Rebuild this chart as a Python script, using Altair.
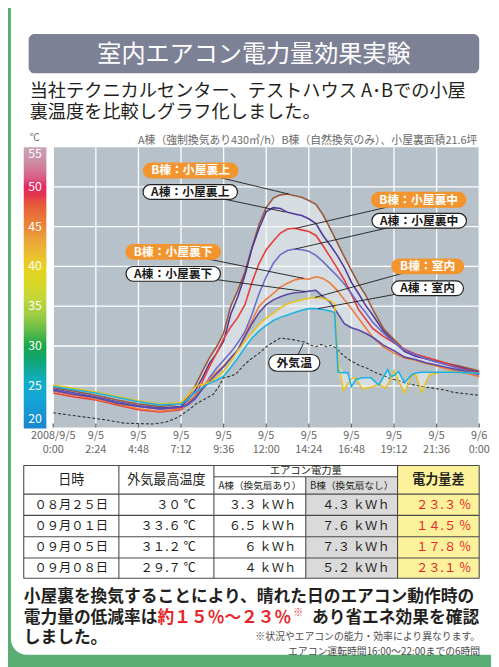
import altair as alt
import pandas as pd

FONT = "Noto Sans CJK JP"

# ---------------- series values (hours from 2008/9/5 0:00, deg C) ----------------
hours = [0, 1.2, 2.4, 3.6, 4.8, 6.0, 7.2, 7.6, 8.0, 8.4, 8.8, 9.2, 9.6,
         10.0, 10.4, 10.8, 11.2, 11.6, 12.0, 12.4, 12.8, 13.2, 13.6, 14.0, 14.4,
         14.8, 15.2, 15.6, 16.0, 16.4, 16.8, 17.2, 17.6, 18.0, 18.6, 19.2, 19.8,
         20.4, 21.0, 21.6, 22.2, 22.8, 23.4, 24.0]
b_attic_top = [24.8, 24.3, 23.8, 23.2, 22.7, 22.4, 22.7, 23.6, 25.0, 26.8, 28.5, 29.9, 31.6,
               35.0, 37.0, 39.3, 42.4, 45.3, 47.4, 48.6, 49.0, 49.1, 48.9, 48.7, 48.3,
               47.8, 46.5, 44.8, 43.0, 41.2, 39.5, 37.8, 36.4, 34.6, 32.2, 30.8, 29.5,
               28.8, 28.4, 28.1, 27.8, 27.5, 27.2, 26.85]
a_attic_top = [24.6, 24.1, 23.6, 23.0, 22.5, 22.2, 22.4, 23.2, 24.4, 26.0, 27.8, 29.1, 30.6,
               34.0, 36.2, 38.9, 42.3, 44.8, 46.9, 47.4, 47.3, 46.8, 46.6, 46.4, 46.0,
               45.4, 43.9, 42.7, 41.4, 39.9, 38.0, 36.6, 35.1, 33.9, 31.9, 30.5, 29.3,
               28.7, 28.4, 28.0, 27.7, 27.4, 27.0, 26.7]
b_attic_mid = [24.1, 23.6, 23.2, 22.6, 22.0, 21.7, 22.0, 22.8, 23.8, 25.5, 27.4, 29.1, 30.9,
               32.4, 33.6, 35.2, 38.0, 40.4, 42.1, 43.2, 44.2, 44.7, 44.8, 44.6, 44.4,
               43.9, 42.6, 41.2, 39.8, 38.3, 36.5, 34.6, 33.4, 32.2, 31.2, 30.4, 29.6,
               29.0, 28.6, 28.2, 27.8, 27.3, 26.9, 26.55]
a_attic_mid = [24.5, 24.0, 23.5, 22.9, 22.4, 22.1, 22.2, 22.6, 23.3, 24.6, 26.0, 27.2, 28.2,
               29.2, 30.4, 31.8, 34.0, 36.6, 38.7, 40.4, 41.5, 42.0, 42.2, 42.1, 41.9,
               41.4, 40.6, 39.7, 38.8, 37.8, 36.6, 35.3, 34.2, 33.0, 31.6, 30.4, 29.5,
               28.9, 28.4, 28.0, 27.6, 27.2, 26.8, 26.5]
b_attic_low = [24.3, 23.8, 23.3, 22.7, 22.1, 21.8, 22.1, 22.9, 23.8, 24.8, 25.8, 26.7, 27.5,
               28.5, 29.4, 31.4, 33.2, 35.0, 35.9, 36.6, 37.4, 37.9, 38.3, 38.5, 38.4,
               38.7, 38.5, 37.9, 37.0, 35.8, 34.7, 33.5, 32.3, 31.1, 29.9, 29.1, 28.5,
               28.2, 27.8, 27.5, 27.1, 26.8, 26.5, 26.15]
a_attic_low = [24.4, 23.9, 23.5, 22.8, 22.4, 22.1, 22.3, 22.7, 23.5, 24.6, 25.5, 26.5, 27.4,
               28.5, 29.5, 31.2, 32.8, 34.2, 35.2, 35.8, 36.2, 36.5, 36.7, 36.75, 36.9,
               37.0, 36.2, 35.5, 34.2, 32.8, 32.3, 32.0, 31.6, 31.1, 30.1, 29.4, 28.6,
               28.3, 27.9, 27.6, 27.3, 27.0, 26.7, 26.4]

room_hours = [0, 2.4, 4.8, 6.0, 7.2, 7.6, 8.0, 8.4, 8.8, 9.2, 9.6, 10.0, 10.4, 10.8, 11.2,
              11.6, 12.0, 12.4, 12.8, 13.2, 13.6, 14.0, 14.4, 14.8, 15.2, 15.6, 15.85,
              16.05, 16.35, 16.6, 16.8, 17.05, 17.4, 17.9, 18.35, 18.7, 18.85, 19.0, 19.2,
              19.45, 19.8, 20.2, 20.45, 20.75, 21.2, 21.8, 22.5, 23.2, 24.0]
b_room = [25.1, 24.2, 23.1, 22.7, 22.9, 23.8, 24.9, 25.2, 25.4, 26.0, 26.8, 28.0, 29.4, 30.6,
          31.7, 32.7, 33.5, 34.1, 34.8, 35.3, 35.6, 35.8, 36.0, 36.1, 36.0, 35.7, 35.3,
          28.0, 24.4, 25.3, 25.9, 26.0, 24.6, 24.8, 25.2, 24.7, 25.2, 25.8, 26.85,
          25.6, 24.1, 26.4, 26.3, 24.2, 26.4, 26.7, 26.7, 26.65, 26.55]
a_room = [24.9, 24.1, 23.0, 22.6, 22.7, 23.3, 24.2, 24.8, 25.3, 25.7, 26.2, 27.3, 28.5, 29.8,
          31.0, 31.9, 32.6, 33.2, 33.6, 33.9, 34.2, 34.5, 34.7, 34.7, 34.6, 34.4, 34.2,
          26.7, 26.65, 26.65, 24.9, 25.8, 26.0, 26.0, 25.1, 26.5, 27.05, 26.2, 26.3,
          26.8, 25.4, 26.4, 26.6, 26.7, 26.7, 26.7, 26.7, 26.65, 26.55]

out_hours = [0, 1.0, 2.0, 3.0, 4.0, 4.8, 5.6, 6.3, 7.0, 7.6, 8.1, 8.6, 9.0, 9.3, 9.6, 10.0,
             10.3, 10.7, 11.1, 11.6, 12.0, 12.4, 12.8, 13.2, 13.5, 13.9, 14.2, 14.5, 14.8,
             15.1, 15.4, 15.7, 16.0, 16.4, 16.8, 17.3, 17.6, 18.1, 18.6, 19.0, 19.5, 20.1,
             20.8, 21.4, 22.0, 22.5, 23.2, 24.0]
out_temp = [21.6, 21.3, 21.0, 20.7, 20.3, 20.25, 20.2, 20.4, 21.0, 21.9, 22.8, 23.4, 23.9,
            24.8, 26.0, 26.2, 26.5, 27.5, 28.3, 29.1, 29.9, 30.5, 31.0, 30.9, 30.8, 30.6,
            30.5, 30.1, 29.9, 30.2, 29.9, 30.1, 29.6, 28.7, 28.1, 27.5, 27.3, 26.7, 26.3,
            25.9, 25.6, 25.2, 24.9, 24.7, 24.5, 24.2, 24.0, 23.8]

series_names = ["B棟：小屋裏上", "A棟：小屋裏上", "B棟：小屋裏中", "A棟：小屋裏中",
                "B棟：小屋裏下", "A棟：小屋裏下", "B棟：室内", "A棟：室内"]
series_colors = ["#99593b", "#52399c", "#e93b3b", "#6b6cc9",
                 "#f07a3a", "#5c49a8", "#e9c21f", "#1cb2e3"]
outside_name = "外気温"

tick_hours = [0, 2.4, 4.8, 7.2, 9.6, 12.0, 14.4, 16.8, 19.2, 21.6, 24.0]
tick_labels = ["2008/9/5\n0:00", "9/5\n2:24", "9/5\n4:48", "9/5\n7:12", "9/5\n9:36",
               "9/5\n12:00", "9/5\n14:24", "9/5\n16:48", "9/5\n19:12", "9/5\n21:36",
               "9/6\n0:00"]
temp_ticks = [20, 25, 30, 35, 40, 45, 50, 55]

# ---------------- table values ----------------
table_dates = ["08月25日", "09月01日", "09月05日", "09月08日"]
table_max_temp = [30, 33.6, 31.2, 29.7]
table_kwh_a = [3.3, 6.5, 6, 4]
table_kwh_b = [4.3, 7.6, 7.3, 5.2]
table_diff = [23.3, 14.5, 17.8, 23.1]

# ---------------- callout annotations (label, centre h/T, target h/T, house) ----------------
callouts = [
    ("B棟：小屋裏上", 7.74, 52.06, 13.27, 49.1, "B", 96),
    ("A棟：小屋裏上", 7.72, 49.37, 13.08, 46.84, "A", 96),
    ("B棟：小屋裏下", 6.76, 41.83, 14.1, 38.5, "B", 96),
    ("A棟：小屋裏下", 6.76, 39.07, 14.19, 36.85, "A", 96),
    ("B棟：小屋裏中", 20.59, 48.38, 13.64, 44.78, "B", 96),
    ("A棟：小屋裏中", 20.62, 45.75, 13.64, 42.2, "A", 96),
    ("B棟：室内", 21.1, 40.01, 14.74, 36.1, "B", 73),
    ("A棟：室内", 21.09, 37.25, 14.93, 34.7, "A", 73),
    ("外気温", 13.58, 27.88, 14.1, 30.35, "A", 52),
]

# ---------------- layout ----------------
W, H = 491, 659
PLOT_L, PLOT_R, PLOT_T, PLOT_B = 46, 479, 136, 421
XS = alt.Scale(domain=[0, 24], range=[PLOT_L, PLOT_R], nice=False, zero=False)
YS = alt.Scale(domain=[20, 55], range=[419, PLOT_T], nice=False, zero=False)
GREEN = "#5aad73"
ORANGE = "#f3952f"

dummy = pd.DataFrame({"a": [0]})


def X(f):
    return alt.X(f, scale=XS, axis=None)


def Y(f):
    return alt.Y(f, scale=YS, axis=None)


def PX(f):
    return alt.X(f, scale=None, axis=None)


def PY(f):
    return alt.Y(f, scale=None, axis=None)


def box(x0, x1, y0, y1, fill, r=0):
    return alt.Chart(dummy).mark_rect(fill=fill, cornerRadius=r).encode(
        x=alt.value(x0), x2=alt.value(x1), y=alt.value(y0), y2=alt.value(y1))


def txt(text, x, y, size, color="#231f20", weight="normal", align="left", baseline="middle"):
    return alt.Chart(dummy).mark_text(
        text=text, font=FONT, fontSize=size, color=color, fontWeight=weight,
        align=align, baseline=baseline).encode(x=alt.value(x), y=alt.value(y))


layers = []

# page card and title
layers.append(box(3, 560, -30, 652, "white", 16))
layers.append(box(21, 479, 21, 61, "#7d8196", 6))
layers.append(txt("室内エアコン電力量効果実験", 250, 42, 24.5, "white", align="center"))
layers.append(txt("当社テクニカルセンター、テストハウス A･Bでの小屋", 22, 79.5, 18.5))
layers.append(txt("裏温度を比較しグラフ化しました。", 22, 100, 18.5))
layers.append(txt("A棟（強制換気あり430㎥/h）B棟（自然換気のみ）、小屋裏面積21.6坪",
                  477, 129.5, 11, "#6a6a6a", align="right"))
layers.append(txt("℃", 27, 127, 10, "#6a6a6a", align="center"))

# colour bar
grad = alt.LinearGradient(
    gradient="linear", x1=0, x2=0, y1=0, y2=1,
    stops=[alt.GradientStop(offset=o, color=c) for o, c in [
        (0.0, "#c9a3b6"), (0.06, "#cf88a2"), (0.11, "#da5c84"), (0.14, "#e02a62"),
        (0.17, "#e3344e"), (0.2, "#e6573c"), (0.26, "#e97c38"), (0.29, "#ea8a3a"),
        (0.34, "#ebaa3a"), (0.4, "#e9c72c"), (0.43, "#e6d21e"), (0.49, "#d6d828"),
        (0.54, "#c2d63a"), (0.6, "#9ccc44"), (0.66, "#56b848"), (0.71, "#16a64c"),
        (0.77, "#10a680"), (0.83, "#12aec2"), (0.89, "#14a6d6"), (1.0, "#1a86d0")]])
layers.append(alt.Chart(dummy).mark_rect(fill=grad).encode(
    x=alt.value(16), x2=alt.value(39), y=alt.value(PLOT_T), y2=alt.value(PLOT_B + 1)))
cb = pd.DataFrame({"T": temp_ticks, "lab": [str(t) for t in temp_ticks]})
for sel, base, dy in [((cb["T"] > 20) & (cb["T"] < 55), "middle", 0),
                      (cb["T"] == 55, "top", 1.5), (cb["T"] == 20, "bottom", 0)]:
    layers.append(alt.Chart(cb[sel]).mark_text(
        font=FONT, fontSize=12.5, color="white", baseline=base, dy=dy, align="center").encode(
        x=alt.value(27.5), y=Y("T:Q"), text="lab:N"))

# plot background and grid
layers.append(box(PLOT_L, PLOT_R, PLOT_T, PLOT_B, "#b7c1c9"))
gx = pd.DataFrame({"h": tick_hours})
layers.append(alt.Chart(gx).mark_rule(color="white", strokeWidth=1.3).encode(
    x=X("h:Q"), y=alt.value(PLOT_T), y2=alt.value(PLOT_B)))
gy = pd.DataFrame({"T": [t for t in temp_ticks if 20 < t < 55]})
layers.append(alt.Chart(gy).mark_rule(color="white", strokeWidth=1.3).encode(
    y=Y("T:Q"), x=alt.value(PLOT_L), x2=alt.value(PLOT_R)))

# shaded bands between the houses
attic = pd.DataFrame({"h": hours, "s1": b_attic_top, "s2": a_attic_top, "s3": b_attic_mid,
                      "s4": a_attic_mid, "s5": b_attic_low, "s6": a_attic_low})
cols = ["s1", "s2", "s3", "s4", "s5", "s6"]
attic["lo"] = attic[cols].min(axis=1)
attic["hi"] = attic[cols].max(axis=1)
room = pd.DataFrame({"h": room_hours, "b": b_room, "a": a_room})
room["lo"] = room[["a", "b"]].min(axis=1)
room["hi"] = room[["a", "b"]].max(axis=1)
for band in (attic, room):
    layers.append(alt.Chart(band).mark_area(color="#eef2f5", opacity=0.55).encode(
        x=X("h:Q"), y=Y("lo:Q"), y2="hi:Q"))

# lines
rows = []
for name, vals in zip(series_names[:6], [b_attic_top, a_attic_top, b_attic_mid,
                                          a_attic_mid, b_attic_low, a_attic_low]):
    rows += [{"h": h, "T": t, "series": name} for h, t in zip(hours, vals)]
for name, vals in zip(series_names[6:], [b_room, a_room]):
    rows += [{"h": h, "T": t, "series": name} for h, t in zip(room_hours, vals)]
lines = pd.DataFrame(rows)
outside = pd.DataFrame({"h": out_hours, "T": out_temp, "series": outside_name})

layers.append(alt.Chart(outside).mark_line(color="#333333", strokeWidth=1.1,
                                           strokeDash=[3, 2]).encode(
    x=X("h:Q"), y=Y("T:Q"), order="h:Q"))
layers.append(alt.Chart(lines).mark_line(strokeWidth=1.6).encode(
    x=X("h:Q"), y=Y("T:Q"), order="h:Q",
    color=alt.Color("series:N", scale=alt.Scale(domain=series_names, range=series_colors),
                    legend=None)))

# x ticks and labels
layers.append(alt.Chart(gx).mark_rule(color="#666666", strokeWidth=1.3).encode(
    x=X("h:Q"), y=alt.value(417), y2=alt.value(421)))
xl = pd.DataFrame({"h": tick_hours, "lab": tick_labels})
layers.append(alt.Chart(xl).mark_text(
    font=FONT, fontSize=11, color="#666666", baseline="top", lineBreak="\n",
    lineHeight=14, align="center").encode(x=X("h:Q"), y=alt.value(424), text="lab:N"))

# callouts
co = pd.DataFrame(callouts, columns=["label", "h", "T", "th", "tT", "house", "w"])
co["fill"] = co["house"].map({"B": ORANGE, "A": "white"})
co["stroke"] = co["house"].map({"B": ORANGE, "A": "#222222"})
co["tc"] = co["house"].map({"B": "white", "A": "#1a1a1a"})
layers.append(alt.Chart(co).mark_rule(color="#1a1a1a", strokeWidth=0.9).encode(
    x=X("h:Q"), y=Y("T:Q"), x2="th:Q", y2="tT:Q"))
for w in sorted(co["w"].unique()):
    hh = 17 if w == 52 else 15
    layers.append(alt.Chart(co[co["w"] == w]).mark_rect(
        width=float(w), height=hh, cornerRadius=hh / 2, strokeWidth=1.2).encode(
        x=X("h:Q"), y=Y("T:Q"),
        fill=alt.Fill("fill:N", scale=None), stroke=alt.Stroke("stroke:N", scale=None)))
layers.append(alt.Chart(co).mark_text(font=FONT, fontSize=12, fontWeight="bold").encode(
    x=X("h:Q"), y=Y("T:Q"), text="label:N", color=alt.Color("tc:N", scale=None)))

# ---------------- table ----------------
FW = str.maketrans("0123456789", "０１２３４５６７８９")


def num(v):
    s = f"{v:g}"
    return s.translate(FW)


col_x = [16, 112.7, 209.3, 302.7, 396, 479]
T_TOP, SUB_Y, HEAD_B = 459.7, 471, 488.7
row_edges = [488.7, 510.3, 532, 553.7, 574.3]

bg = pd.DataFrame([
    {"x0": col_x[3], "x1": col_x[4], "y0": SUB_Y, "y1": row_edges[-1], "fill": "#dadada"},
    {"x0": col_x[4], "x1": col_x[5], "y0": T_TOP, "y1": row_edges[-1], "fill": "#fcf29c"},
])
layers.append(alt.Chart(bg).mark_rect().encode(
    x=PX("x0:Q"), x2="x1:Q", y=PY("y0:Q"), y2="y1:Q", fill=alt.Fill("fill:N", scale=None)))

segs = []
for y in [T_TOP, HEAD_B] + row_edges[1:]:
    segs.append({"x0": col_x[0], "x1": col_x[-1], "y0": y, "y1": y})
segs.append({"x0": col_x[2], "x1": col_x[4], "y0": SUB_Y, "y1": SUB_Y})
for x in [col_x[0], col_x[1], col_x[2], col_x[4], col_x[5]]:
    segs.append({"x0": x, "x1": x, "y0": T_TOP, "y1": row_edges[-1]})
segs.append({"x0": col_x[3], "x1": col_x[3], "y0": SUB_Y, "y1": row_edges[-1]})
layers.append(alt.Chart(pd.DataFrame(segs)).mark_rule(color="#4a4a4a", strokeWidth=1.1).encode(
    x=PX("x0:Q"), x2="x1:Q", y=PY("y0:Q"), y2="y1:Q"))

head = pd.DataFrame([
    {"t": "日時", "x": (col_x[0] + col_x[1]) / 2, "y": 474, "fs": 13.3},
    {"t": "外気最高温度", "x": (col_x[1] + col_x[2]) / 2, "y": 474, "fs": 13.3},
    {"t": "エアコン電力量", "x": col_x[3], "y": 465, "fs": 10.5},
    {"t": "A棟（換気扇あり）", "x": (col_x[2] + col_x[3]) / 2, "y": 480.5, "fs": 9.8},
    {"t": "B棟（換気扇なし）", "x": (col_x[3] + col_x[4]) / 2, "y": 480.5, "fs": 9.8},
])
layers.append(alt.Chart(head).mark_text(font=FONT, color="#231f20", align="center").encode(
    x=PX("x:Q"), y=PY("y:Q"), text="t:N", size=alt.Size("fs:Q", scale=None)))
layers.append(txt("電力量差", (col_x[4] + col_x[5]) / 2, 474, 13.3, weight="bold",
                  align="center"))

row_y = [(row_edges[i] + row_edges[i + 1]) / 2 for i in range(4)]
cells_c, cells_r = [], []
for i in range(4):
    cells_c.append({"t": table_dates[i].translate(FW), "x": (col_x[0] + col_x[1]) / 2,
                    "y": row_y[i], "c": "#231f20"})
    cells_r.append({"t": num(table_max_temp[i]) + " ℃", "x": 191, "y": row_y[i], "c": "#231f20"})
    cells_r.append({"t": num(table_kwh_a[i]) + " ｋＷｈ", "x": 293, "y": row_y[i], "c": "#231f20"})
    cells_r.append({"t": num(table_kwh_b[i]) + " ｋＷｈ", "x": 388, "y": row_y[i], "c": "#231f20"})
    cells_r.append({"t": num(table_diff[i]) + " ％", "x": 471, "y": row_y[i], "c": "#e8262a"})
for cells, al in [(cells_c, "center"), (cells_r, "right")]:
    layers.append(alt.Chart(pd.DataFrame(cells)).mark_text(
        font=FONT, fontSize=12.5, align=al).encode(
        x=PX("x:Q"), y=PY("y:Q"), text="t:N", color=alt.Color("c:N", scale=None)))

# ---------------- footer ----------------
FS = 17
layers.append(txt("小屋裏を換気することにより、晴れた日のエアコン動作時の", 16, 593.5, FS,
                  weight="bold"))
layers.append(txt("電力量の低減率は", 16, 614.5, FS, weight="bold"))
layers.append(txt("約１５％～２３％", 16 + 8 * FS, 614.5, FS, "#e8262a", weight="bold"))
layers.append(txt("※", 16 + 16 * FS + 2, 610, 10, "#e8262a"))
layers.append(txt("あり省エネ効果を確認", 309, 614.5, FS, weight="bold"))
layers.append(txt("しました。", 16, 635.5, FS, weight="bold"))
layers.append(txt("※状況やエアコンの能力・効率により異なります。", 480, 634.3, 10,
                  "#4d4d4d", align="right"))
layers.append(txt("エアコン運転時間16:00～22:00までの6時間", 480, 649.3, 10,
                  "#4d4d4d", align="right"))

chart = alt.layer(*layers).resolve_scale(
    x="independent", y="independent", color="independent", fill="independent",
    stroke="independent", size="independent"
).properties(
    width=W, height=H, padding=0, autosize=alt.AutoSizeParams(type="none"),
    background=GREEN
).configure_view(strokeWidth=0)

chart.save("out.html", embed_options={"renderer": "svg", "actions": False})
